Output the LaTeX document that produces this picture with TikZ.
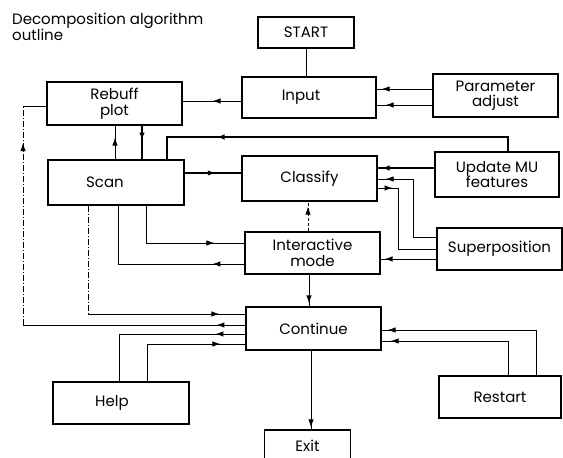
\documentclass[tikz,border=0pt]{standalone}
\usepackage{fontspec}
\setmainfont{Poppins}
\usetikzlibrary{arrows.meta,decorations.markings}
\newcommand\lab{\fontsize{15}{15.5}\selectfont}
\tikzset{
  mytip/.tip={Latex[length=8pt,width=5.5pt]},
  box/.style={draw, line width=1.1pt, inner sep=0pt, align=center, font=\lab},
  conn/.style={line width=1pt},
  heavy/.style={line width=2.6pt},
  tipat/.style={postaction={decorate}, decoration={markings, mark=at position #1 with {\arrow{mytip}}}},
  dd/.style={dash pattern=on 6pt off 2pt on 1pt off 2pt},
}
\begin{document}
\begin{tikzpicture}[x=1pt,y=-1pt]
\fill[white] (0,0) rectangle (563,458);
\useasboundingbox (0,0) rectangle (563,458);
\node[anchor=north west, align=left, font=\lab, inner sep=0pt] (title) at (12,13) {Decomposition algorithm\\outline};
\node[box, minimum width=96pt, minimum height=31pt] (start) at (306,32.5) {START};
\node[box, minimum width=134pt, minimum height=41pt] (input) at (309,97.5) {\hspace*{-16pt}Input};
\node[box, minimum width=125pt, minimum height=43pt] (param) at (495.5,95.5) {Parameter\\adjust};
\node[box, minimum width=135pt, minimum height=43pt] (rebuff) at (114.5,103.5) {Rebuff\\plot};
\node[box, minimum width=136pt, minimum height=45pt] (scan) at (116,182.5) {\hspace*{-22pt}Scan};
\node[box, minimum width=135pt, minimum height=45pt] (classify) at (309.5,178.5) {Classify};
\node[box, minimum width=124pt, minimum height=45pt] (update) at (497,174.5) {Update MU\\features};
\node[box, minimum width=135pt, minimum height=42pt] (inter) at (312.5,253) {Interactive\\mode};
\node[box, minimum width=125pt, minimum height=42pt] (superp) at (499.5,249) {Superposition};
\node[box, minimum width=135pt, minimum height=43pt] (cont) at (313.5,328.5) {Continue};
\node[box, minimum width=136pt, minimum height=42pt] (help) at (121,403) {\hspace*{-18pt}Help};
\node[box, minimum width=122pt, minimum height=42pt] (restart) at (500,397) {Restart};
\node[box, minimum width=86pt, minimum height=32pt] (exit) at (307.5,446) {Exit};
% connectors
\draw[conn] (start.south) -- (start.south |- input.north);
\draw[conn, tipat=-30pt] (input.west |- 0,101) -- (rebuff.east |- 0,101);
\draw[conn, tipat=-5pt] (param.west |- 0,89) -- (input.east |- 0,89);
\draw[conn, tipat=-9pt] (param.west |- 0,105) -- (input.east |- 0,105);
\draw[conn, tipat=-12pt] (scan.north -| 115,0) -- (rebuff.south -| 115,0);
\draw[conn, line width=1.8pt, tipat=15pt] (rebuff.south -| 142,0) -- (scan.north -| 142,0);
\draw[heavy, tipat=-72pt] (update.north -| 508,0) |- (167,137) -- (scan.north -| 167,0);
\draw[heavy, tipat=0.55] (scan.east |- 0,173) -- (classify.west |- 0,173);
\draw[heavy, tipat=-4pt] (update.west |- 0,168) -- (classify.east |- 0,168);
\draw[conn, tipat=-8pt] (superp.west |- 0,237) -| (413,179) -- (classify.east |- 0,179);
\draw[conn, tipat=15pt] (classify.east |- 0,188) -| (398,249) -- (superp.west |- 0,249);
\draw[conn, tipat=-4pt] (superp.west |- 0,259) -- (inter.east |- 0,259);
\draw[conn, densely dashed, tipat=-5pt] (inter.north -| 308,0) -- (classify.south -| 308,0);
\draw[conn, tipat=-30pt] (scan.south -| 146,0) |- (inter.west |- 0,243);
\draw[conn, tipat=32pt] (inter.west |- 0,264) -| (scan.south -| 118,0);
\draw[conn, tipat=-3pt] (inter.south -| 309,0) -- (cont.north -| 309,0);
\coordinate (sc) at (88,314);
\draw[conn, dd] (scan.south -| sc) -- (sc);
\draw[conn, tipat=-26pt] (sc) -- (cont.west |- sc);
\coordinate (lb) at (23,325);
\coordinate (lt) at (23,106);
\draw[conn, tipat=29pt] (cont.west |- lb) -- (lb);
\draw[conn, dd, tipat=182pt] (lb) -- (lt);
\draw[conn] (lt) -- (rebuff.west |- lt);
\draw[conn, tipat=30pt] (cont.west |- 0,334) -| (help.north -| 119,0);
\draw[conn, tipat=-25pt] (help.north -| 147,0) |- (cont.west |- 0,344);
\draw[conn, tipat=-6pt] (restart.north -| 536,0) |- (cont.east |- 0,330);
\draw[conn, tipat=-9pt] (restart.north -| 508,0) |- (cont.east |- 0,341);
\draw[conn, tipat=-2pt] (cont.south -| 311,0) -- (exit.north -| 311,0);
\end{tikzpicture}
\end{document}
